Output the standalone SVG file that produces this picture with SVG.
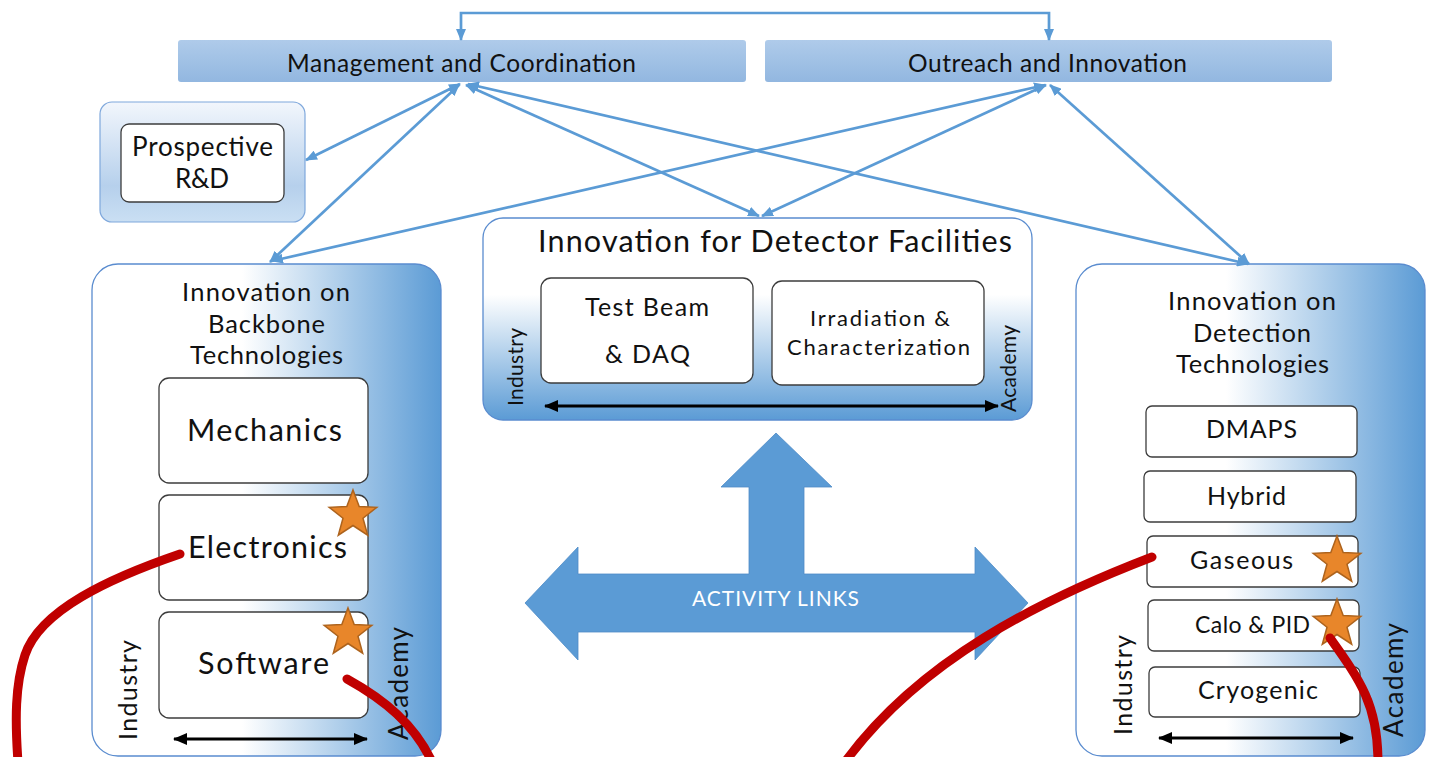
<svg xmlns="http://www.w3.org/2000/svg" xmlns:xlink="http://www.w3.org/1999/xlink" width="1435" height="757" viewBox="0 0 1435 757">
<style>
text{font-family:Lato,"Liberation Sans",sans-serif;fill:#111}
.bar{stroke:none}
.panel{stroke:#5a8ccf;stroke-width:1.3}
.box{fill:#fff;stroke:#3c3c3c;stroke-width:1.3}
.link{fill:none;stroke:#5b9bd5;stroke-width:2.7;marker-start:url(#ba);marker-end:url(#ba)}
.blk{fill:none;stroke:#000;stroke-width:3;marker-start:url(#ka);marker-end:url(#ka)}
.red{fill:none;stroke:#c00000;stroke-width:9;stroke-linecap:round}
.star{fill:#e8862a;stroke:#ad631d;stroke-width:1.5}
</style>
<defs>
<linearGradient id="gBar" x1="0" y1="0" x2="0" y2="1"><stop offset="0" stop-color="#afcbea"/><stop offset="1" stop-color="#92b7e0"/></linearGradient>
<linearGradient id="gPro" x1="0" y1="0" x2="0" y2="1"><stop offset="0" stop-color="#f2f6fc"/><stop offset="0.7" stop-color="#b6d0ec"/><stop offset="1" stop-color="#cadff3"/></linearGradient>
<linearGradient id="gSide" x1="0" y1="0" x2="1" y2="0"><stop offset="0" stop-color="#fff"/><stop offset="0.43" stop-color="#fff"/><stop offset="1" stop-color="#5b9bd5"/></linearGradient>
<linearGradient id="gFac" x1="0" y1="0" x2="0" y2="1"><stop offset="0" stop-color="#fff"/><stop offset="0.38" stop-color="#fff"/><stop offset="1" stop-color="#5b9bd5"/></linearGradient>
<marker id="ba" viewBox="0 0 12 10" refX="11" refY="5" markerWidth="12" markerHeight="10" markerUnits="userSpaceOnUse" orient="auto-start-reverse"><path d="M0,0 L12,5 L0,10 z" fill="#5b9bd5"/></marker>
<marker id="ka" viewBox="0 0 14 12" refX="13" refY="6" markerWidth="14" markerHeight="12" markerUnits="userSpaceOnUse" orient="auto-start-reverse"><path d="M0,0 L14,6 L0,12 z" fill="#000"/></marker>
<path id="star" d="M0,-25 L6.2,-8.5 L23.8,-7.7 L10,3.2 L14.7,20.2 L0,10.5 L-14.7,20.2 L-10,3.2 L-23.8,-7.7 L-6.2,-8.5 z"/>
</defs>

<g id="management">
<rect class="bar" x="178" y="40" width="568" height="42" rx="3" fill="url(#gBar)"/>
<text x="287" y="72" font-size="24.5" textLength="349">Management and Coordination</text>
</g>
<g id="outreach">
<rect class="bar" x="765" y="40" width="567" height="42" rx="3" fill="url(#gBar)"/>
<text x="908" y="72" font-size="24.5" textLength="279">Outreach and Innovation</text>
</g>

<g id="prospective">
<rect x="100" y="102" width="205" height="120" rx="12" fill="url(#gPro)" stroke="#7fa8dc" stroke-width="1.2"/>
<rect class="box" x="121" y="124" width="163" height="78" rx="8"/>
<text x="132" y="156" font-size="26" textLength="141">Prospective</text>
<text x="175" y="188" font-size="26" textLength="54">R&amp;D</text>
</g>

<g id="facilities">
<rect class="panel" x="483" y="218" width="549" height="202" rx="20" fill="url(#gFac)"/>
<text x="538" y="252" font-size="30.5" textLength="474">Innovation for Detector Facilities</text>
<rect class="box" x="541" y="278" width="212" height="105" rx="10"/>
<text x="585" y="316" font-size="25" textLength="124">Test Beam</text>
<text x="605" y="363" font-size="25" textLength="85">&amp; DAQ</text>
<rect class="box" x="772" y="281" width="212" height="104" rx="10"/>
<text x="810" y="326" font-size="22" textLength="140">Irradiation &amp;</text>
<text x="787" y="355" font-size="22" textLength="183">Characterization</text>
<text transform="translate(523,406) rotate(-90)" font-size="21" textLength="78">Industry</text>
<text transform="translate(1016,412) rotate(-90)" font-size="21" textLength="87">Academy</text>
<path class="blk" d="M545,406 H998"/>
</g>

<g id="backbone">
<rect class="panel" x="92" y="264" width="349" height="492" rx="26" fill="url(#gSide)"/>
<text x="182" y="301" font-size="25.5" textLength="168">Innovation on</text>
<text x="208" y="333" font-size="25.5" textLength="117">Backbone</text>
<text x="190" y="364" font-size="25.5" textLength="153">Technologies</text>
<rect class="box" x="159" y="378" width="209" height="105" rx="10"/>
<text x="187" y="441" font-size="30.5" textLength="155">Mechanics</text>
<rect class="box" x="159" y="495" width="209" height="105" rx="10"/>
<text x="188" y="558" font-size="30.5" textLength="159">Electronics</text>
<rect class="box" x="159" y="612" width="209" height="106" rx="10"/>
<text x="198" y="674" font-size="30.5" textLength="131">Software</text>
<text transform="translate(137,740) rotate(-90)" font-size="25" textLength="100">Industry</text>
<text transform="translate(408,740) rotate(-90)" font-size="26" textLength="113">Academy</text>
<path class="blk" d="M174,739 H367"/>
<use href="#star" class="star" x="353" y="515"/>
<use href="#star" class="star" x="348" y="633"/>
</g>

<g id="detection">
<rect class="panel" x="1076" y="264" width="349" height="492" rx="26" fill="url(#gSide)"/>
<text x="1168" y="310" font-size="25.5" textLength="168">Innovation on</text>
<text x="1193" y="342" font-size="25.5" textLength="118">Detection</text>
<text x="1176" y="373" font-size="25.5" textLength="153">Technologies</text>
<rect class="box" x="1146" y="406" width="211" height="51" rx="6"/>
<text x="1206" y="438" font-size="25" textLength="91">DMAPS</text>
<rect class="box" x="1144" y="471" width="212" height="51" rx="6"/>
<text x="1207" y="505" font-size="25" textLength="79">Hybrid</text>
<rect class="box" x="1147" y="536" width="211" height="51" rx="6"/>
<text x="1190" y="569" font-size="25" textLength="103">Gaseous</text>
<rect class="box" x="1148" y="600" width="211" height="51" rx="6"/>
<text x="1195" y="633" font-size="23" textLength="115">Calo &amp; PID</text>
<rect class="box" x="1149" y="667" width="211" height="50" rx="6"/>
<text x="1198" y="699" font-size="25" textLength="120">Cryogenic</text>
<text transform="translate(1132,735) rotate(-90)" font-size="25" textLength="100">Industry</text>
<text transform="translate(1403,737) rotate(-90)" font-size="26" textLength="114">Academy</text>
<path class="blk" d="M1159,738 H1353"/>
<use href="#star" class="star" x="1337" y="561"/>
<use href="#star" class="star" x="1337" y="624"/>
</g>

<g id="activity-links">
<polygon points="776,433 832,487 804,487 804,574 975,574 975,547 1028,603 975,660 975,632 578,632 578,660 525,603 578,547 578,574 749,574 749,487 721,487" fill="#5b9bd5" stroke="#4f8cc7" stroke-width="0.8"/>
<text x="692" y="606" font-size="21" textLength="167" style="fill:#fff">ACTIVITY LINKS</text>
</g>

<g id="connectors">
<path class="link" d="M461,40 V13 H1049 V40"/>
<path class="link" d="M460,84 L306,160"/>
<path class="link" d="M459,85 L270,262"/>
<path class="link" d="M466,85 L759,216"/>
<path class="link" d="M468,84 L1248,264"/>
<path class="link" d="M1045,85 L272,261"/>
<path class="link" d="M1046,85 L762,216"/>
<path class="link" d="M1050,85 L1249,264"/>
</g>

<g id="annotations">
<path class="red" d="M180,554 C110,578 40,610 25,655 C15,685 15,720 18,762"/>
<path class="red" d="M347,679 C385,700 415,725 432,762"/>
<path class="red" d="M1152,557 C1040,600 920,660 845,762"/>
<path class="red" d="M1330,638 C1360,680 1378,705 1378,762"/>
</g>
</svg>
